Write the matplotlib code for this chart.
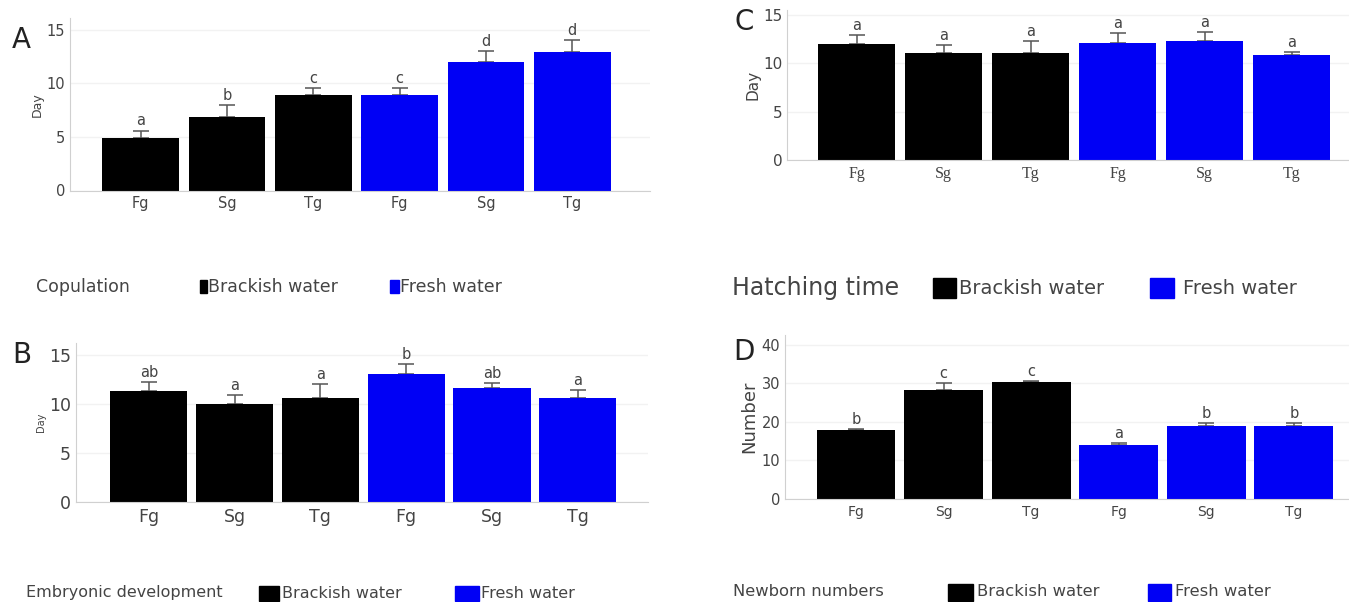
import numpy as np
import matplotlib
matplotlib.use("Agg")
import matplotlib.pyplot as plt
from matplotlib.patches import Rectangle

W, H = 1349, 602

groups = ["Fg", "Sg", "Tg", "Fg", "Sg", "Tg"]
bar_colors = ["black", "black", "black", "#0000f5", "#0000f5", "#0000f5"]

# panel A - copulation (day)
cop_mean = [4.9, 6.85, 8.95, 8.95, 11.95, 12.9]
cop_err = [0.7, 1.15, 0.6, 0.6, 1.1, 1.15]
cop_sig = ["a", "b", "c", "c", "d", "d"]

# panel B - embryonic development (day)
emb_mean = [11.35, 10.0, 10.6, 13.0, 11.6, 10.6]
emb_err = [0.85, 0.9, 1.4, 1.05, 0.5, 0.8]
emb_sig = ["ab", "a", "a", "b", "ab", "a"]

# panel C - hatching time (day)
hat_mean = [12.0, 11.05, 11.05, 12.1, 12.3, 10.9]
hat_err = [0.9, 0.85, 1.25, 1.0, 0.9, 0.3]
hat_sig = ["a", "a", "a", "a", "a", "a"]

# panel D - newborn numbers
new_mean = [17.8, 28.3, 30.3, 14.0, 19.0, 19.0]
new_err = [0.3, 1.7, 0.3, 0.4, 0.8, 0.8]
new_sig = ["b", "c", "c", "a", "b", "b"]


def px_rect(x0, y0, x1, y1):
    # pixel box (top-left origin) -> figure fraction [l, b, w, h]
    return [x0 / W, 1 - y1 / H, (x1 - x0) / W, (y1 - y0) / H]


def panel(rect, vals, errs, sig, ylim, yticks, xlim, width, ylabel, ylab_size,
          tick_size, xtick_size, letter, letter_xy, serif_x=False, lab_pad=4):
    ax = fig.add_axes(rect)
    x = np.arange(len(vals))
    ax.errorbar(x, vals, yerr=[np.zeros(len(errs)), errs], fmt="none",
                ecolor="#555555", elinewidth=1.1, capsize=5.5, capthick=1.1,
                zorder=1)
    ax.bar(x, vals, width=width, color=bar_colors, zorder=2)
    for xi, v, e, s in zip(x, vals, errs, sig):
        ax.annotate(s, (xi, v + e), xytext=(0, 1.5), textcoords="offset points",
                    ha="center", va="bottom", fontsize=10.5, color="#444444")
    ax.set_xlim(*xlim)
    ax.set_ylim(*ylim)
    ax.set_yticks(yticks)
    ax.set_xticks(x)
    if serif_x:
        ax.set_xticklabels(groups, fontsize=xtick_size, color="#333333",
                           family="Liberation Serif")
    else:
        ax.set_xticklabels(groups, fontsize=xtick_size, color="#444444")
    ax.tick_params(axis="both", length=0, labelsize=tick_size, colors="#444444")
    ax.tick_params(axis="x", pad=lab_pad, labelsize=xtick_size)
    ax.set_ylabel(ylabel, fontsize=ylab_size, color="#444444", labelpad=2)
    ax.grid(axis="y", color="#f2f2f2", linewidth=1, zorder=0)
    ax.set_axisbelow(True)
    for s in ["top", "right"]:
        ax.spines[s].set_visible(False)
    for s in ["left", "bottom"]:
        ax.spines[s].set_color("#d0d0d0")
    fig.text(letter_xy[0] / W, 1 - letter_xy[1] / H, letter, fontsize=20,
             color="#222222", ha="left", va="center")
    return ax


def legend_row(y, title, title_size, items, text_size):
    yc = 1 - y / H
    fig.text(title[1] / W, yc, title[0], fontsize=title_size, color="#444444",
             ha="left", va="center")
    for (x0, x1, h), color, label, tx in items:
        fig.patches.append(Rectangle((x0 / W, yc - h / 2 / H), (x1 - x0) / W, h / H,
                                     transform=fig.transFigure, color=color))
        fig.text(tx / W, yc, label, fontsize=text_size, color="#444444",
                 ha="left", va="center")


fig = plt.figure(figsize=(W / 100, H / 100), dpi=100)

panel(px_rect(70, 18, 650, 190.5), cop_mean, cop_err, cop_sig, (0, 16.1),
      [0, 5, 10, 15], (-0.82, 5.9), 0.89, "Day", 9, 10.5, 10.5, "A", (12, 40))
panel(px_rect(76, 343, 648, 502), emb_mean, emb_err, emb_sig, (0, 16.2),
      [0, 5, 10, 15], (-0.85, 5.82), 0.9, "Day", 7, 12.5, 12.5, "B", (12, 355))
panel(px_rect(787, 10, 1349, 160), hat_mean, hat_err, hat_sig, (0, 15.5),
      [0, 5, 10, 15], (-0.80, 5.66), 0.88, "Day", 11, 11, 11.5, "C", (735, 22),
      serif_x=True)
panel(px_rect(785, 335, 1349, 499), new_mean, new_err, new_sig, (0, 42.5),
      [0, 10, 20, 30, 40], (-0.81, 5.63), 0.9, "Number", 13, 10.5, 10, "D",
      (733, 352))

legend_row(287, ("Copulation", 36), 12.5,
           [((200, 207, 13), "black", "Brackish water", 208),
            ((390, 399, 13), "#0000f5", "Fresh water", 400)], 12.5)
legend_row(288, ("Hatching time", 732), 17,
           [((933, 956, 20), "black", "Brackish water", 959),
            ((1150, 1174, 20), "#0000f5", "Fresh water", 1183)], 14)
legend_row(593, ("Embryonic development", 26), 11.5,
           [((259, 279, 15), "black", "Brackish water", 282),
            ((455, 479, 15), "#0000f5", "Fresh water", 481)], 11.5)
legend_row(592, ("Newborn numbers", 733), 11.8,
           [((948, 973, 17), "black", "Brackish water", 977),
            ((1148, 1171, 17), "#0000f5", "Fresh water", 1175)], 11.8)

fig.savefig("out.png", dpi=100)
